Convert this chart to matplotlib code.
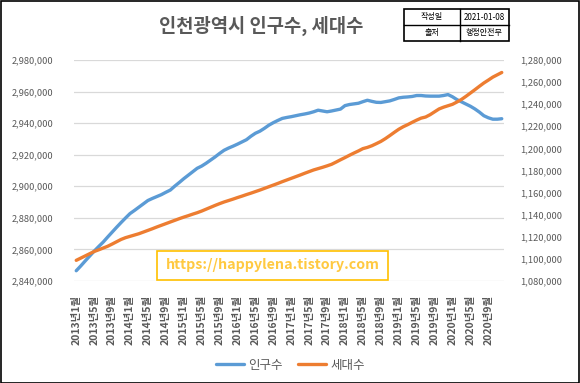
import matplotlib
matplotlib.use("Agg")
import matplotlib.pyplot as plt
from matplotlib.patches import Rectangle
from matplotlib.ticker import FuncFormatter, MultipleLocator

plt.rcParams['font.family'] = ['Noto Sans CJK KR', 'DejaVu Sans']

years = list(range(2013, 2021))
months = [f"{y}년{m}월" for y in years for m in range(1, 13)]

population = [
    2846500, 2849500, 2852700, 2855800, 2858900, 2861800, 2864600, 2867800,
    2870900, 2874000, 2877000, 2879900, 2882700, 2884700, 2886800, 2888900,
    2891000, 2892300, 2893500, 2894700, 2896200, 2897600, 2900100, 2902400,
    2904800, 2907000, 2909200, 2911400, 2912800, 2914600, 2916600, 2918600,
    2920800, 2922800, 2924200, 2925400, 2926700, 2928100, 2929500, 2931700,
    2933600, 2934900, 2936700, 2938700, 2940300, 2941700, 2943000, 2943600,
    2944100, 2944700, 2945300, 2945800, 2946400, 2947200, 2948200, 2947700,
    2947200, 2947700, 2948300, 2948900, 2951100, 2951800, 2952200, 2952600,
    2953600, 2954500, 2953800, 2953200, 2953100, 2953600, 2954100, 2955000,
    2956000, 2956400, 2956600, 2956900, 2957500, 2957500, 2957200, 2957100,
    2957100, 2957100, 2957500, 2958100, 2956700, 2954900, 2953500, 2952100,
    2950700, 2949000, 2947000, 2944700, 2943400, 2942500, 2942500, 2942800,
]

households = [
    1098700, 1100700, 1102700, 1104700, 1106700, 1108200, 1109800, 1111400,
    1113400, 1115500, 1117600, 1119200, 1120400, 1121600, 1122800, 1124300,
    1125800, 1127300, 1128900, 1130400, 1131900, 1133400, 1134900, 1136400,
    1137800, 1139100, 1140500, 1141800, 1143300, 1145000, 1146700, 1148400,
    1150000, 1151500, 1152800, 1154100, 1155500, 1156800, 1158200, 1159500,
    1160900, 1162300, 1163800, 1165300, 1166800, 1168300, 1169900, 1171400,
    1172900, 1174400, 1175900, 1177500, 1179000, 1180500, 1181700, 1182900,
    1184200, 1185600, 1187600, 1189700, 1191700, 1193800, 1195800, 1197700,
    1199800, 1200900, 1202400, 1204300, 1206300, 1208800, 1211600, 1214500,
    1217300, 1219600, 1221500, 1223600, 1225600, 1227400, 1228400, 1230500,
    1233100, 1235700, 1237300, 1238600, 1239900, 1242000, 1244300, 1247100,
    1250100, 1253100, 1256200, 1259200, 1261800, 1264500, 1266600, 1268700,
]

series_names = ["인구수", "세대수"]
title = "인천광역시 인구수, 세대수"
info_rows = [("작성일", "2021-01-08"), ("출처", "행정안전부")]
watermark = "https://happylena.tistory.com"

BLUE = "#5B9BD5"
ORANGE = "#ED7D31"
GRAY = "#595959"

W, H = 580, 383
fig = plt.figure(figsize=(W / 100, H / 100), dpi=100)
fig.patch.set_facecolor("white")
fig.patches.append(Rectangle((0.5 / W, 0.5 / H), 1 - 1.5 / W, 1 - 1.5 / H,
                             transform=fig.transFigure, fill=False,
                             edgecolor="black", linewidth=1.2))

ax = fig.add_axes([74 / W, 1 - 281 / H, 430 / W, 221 / H])
ax2 = ax.twinx()

x = list(range(len(months)))
ax.plot(x, population, color=BLUE, lw=2.4, solid_capstyle="round", label=series_names[0], zorder=3)
ax2.plot(x, households, color=ORANGE, lw=2.4, solid_capstyle="round", label=series_names[1], zorder=3)

ax.set_xlim(-0.5, len(months) - 0.5)
ax.set_ylim(2840000, 2980000)
ax2.set_ylim(1080000, 1280000)
ax.yaxis.set_major_locator(MultipleLocator(20000))
ax2.yaxis.set_major_locator(MultipleLocator(20000))
fmt = FuncFormatter(lambda v, p: f"{int(round(v)):,}")
ax.yaxis.set_major_formatter(fmt)
ax2.yaxis.set_major_formatter(fmt)

ax.set_xticks(x[::4])
ax.set_xticklabels(months[::4], rotation=90, fontsize=7.5, color=GRAY, fontweight="bold")
ax.tick_params(axis="x", length=0, pad=10)
ax.tick_params(axis="y", length=0, pad=15, labelsize=6.7, labelcolor=GRAY)
ax2.tick_params(axis="y", length=0, pad=11.5, labelsize=6.7, labelcolor=GRAY)

ax.grid(axis="y", color="#D9D9D9", lw=0.9)
ax.set_axisbelow(True)
for a in (ax, ax2):
    for s in a.spines.values():
        s.set_visible(False)

# title
fig.text(261 / W, 1 - 26 / H, title, ha="center", va="center",
         fontsize=13.5, color=GRAY, fontweight="bold")

# info table
tx0, tx1, tmid = 404 / W, 509 / W, 460 / W
ty0, ty1, tymid = 1 - 41 / H, 1 - 9 / H, 1 - 25 / H
fig.patches.append(Rectangle((tx0, ty0), tx1 - tx0, ty1 - ty0, transform=fig.transFigure,
                             fill=False, edgecolor="black", linewidth=1.2))
fig.lines.append(plt.Line2D([tmid, tmid], [ty0, ty1], transform=fig.transFigure, color="black", lw=1.0))
fig.lines.append(plt.Line2D([tx0, tx1], [tymid, tymid], transform=fig.transFigure, color="black", lw=1.0))
for r, (k, v) in enumerate(info_rows):
    yc = (ty1 + tymid) / 2 if r == 0 else (tymid + ty0) / 2
    fig.text((tx0 + tmid) / 2, yc, k, ha="center", va="center", fontsize=5.8, color="black")
    fig.text((tmid + tx1) / 2, yc, v, ha="center", va="center", fontsize=5.8, color="black")

# watermark
fig.patches.append(Rectangle((157 / W, 1 - 280 / H), 231 / W, 29 / H, transform=fig.transFigure,
                             facecolor="white", edgecolor="#FFC000", linewidth=1.2, zorder=5))
fig.text(273 / W, 1 - 265.5 / H, watermark, ha="center", va="center", fontsize=10.3,
         color="#FFC940", fontweight="bold", zorder=6)

# legend
h1, l1 = ax.get_legend_handles_labels()
h2, l2 = ax2.get_legend_handles_labels()
fig.legend(h1 + h2, l1 + l2, loc="center", bbox_to_anchor=(290 / W, 1 - 365 / H), ncol=2,
           frameon=False, fontsize=9, labelcolor=GRAY, handlelength=2.3, columnspacing=1.2,
           handletextpad=0.3)

fig.savefig("out.png", dpi=100)
